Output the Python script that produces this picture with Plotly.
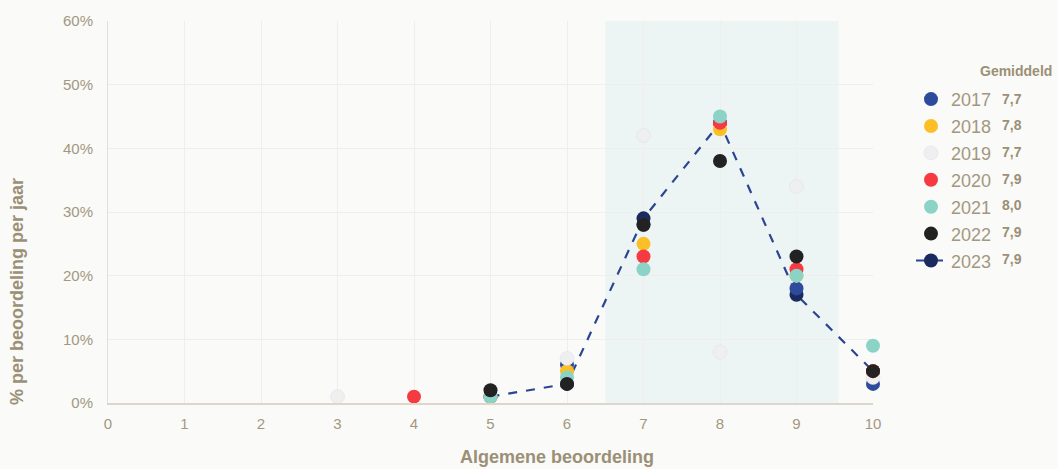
import plotly.graph_objects as go

years = ["2017", "2018", "2019", "2020", "2021", "2022", "2023"]
averages = ["7,7", "7,8", "7,7", "7,9", "8,0", "7,9", "7,9"]
colors = ["#2d4a9c", "#fdbf26", "#efefef", "#f63a42", "#8bd3c7", "#222222", "#1b2a5e"]

x_2017 = [5, 6, 7, 8, 9, 10]
y_2017 = [1, 6, 28, 44, 18, 3]
x_2018 = [5, 6, 7, 8, 9, 10]
y_2018 = [1, 5, 25, 43, 20, 5]
x_2019 = [3, 6, 7, 8, 9, 10]
y_2019 = [1, 7, 42, 8, 34, 4]
x_2020 = [4, 7, 8, 9, 10]
y_2020 = [1, 23, 44, 21, 5]
x_2021 = [5, 6, 7, 8, 9, 10]
y_2021 = [1, 4, 21, 45, 20, 9]
x_2022 = [5, 6, 7, 8, 9, 10]
y_2022 = [2, 3, 28, 38, 23, 5]
x_2023 = [5, 6, 7, 8, 9, 10]
y_2023 = [1, 3, 29, 44, 17, 5]

series_x = [x_2017, x_2018, x_2019, x_2020, x_2021, x_2022, x_2023]
series_y = [y_2017, y_2018, y_2019, y_2020, y_2021, y_2022, y_2023]

highlight_range = [6.5, 9.55]

TICK = "#a3987f"
TITLE = "#9b9076"
FONT = "Liberation Sans, Arial, sans-serif"
BG = "#fafaf9"

fig = go.Figure()

# 2023 first so other years draw on top of it; legend ordered via legendrank
order = [6, 0, 1, 2, 3, 4, 5]
for i in order:
    is_line = years[i] == "2023"
    fig.add_trace(go.Scatter(
        x=series_x[i], y=series_y[i], name=years[i],
        mode="lines+markers" if is_line else "markers",
        line=dict(color="#2b4592", width=2.2, dash="dash") if is_line else None,
        marker=dict(size=14, color=colors[i],
                    line=dict(width=0.5 if years[i] == "2019" else 0,
                              color="#dcdcec" if years[i] == "2019" else colors[i])),
        legendrank=i + 1, legendgroup=years[i], cliponaxis=False,
    ))

fig.add_shape(type="rect", xref="x", yref="y", x0=highlight_range[0], x1=highlight_range[1],
              y0=0, y1=60, fillcolor="#edf4f4", line=dict(width=0), layer="below")

PW, PH = 765, 389
def px(xp):
    return (xp - 108) / PW
def py(yp):
    return (403 - yp) / PH

annotations = [
    dict(text="<b>% per beoordeling per jaar</b>", xref="paper", yref="paper",
         x=px(17), y=py(290), textangle=-90, showarrow=False,
         xanchor="center", yanchor="middle",
         font=dict(size=18, color=TITLE, family=FONT)),
    dict(text="<b>Algemene beoordeling</b>", xref="paper", yref="paper",
         x=px(557), y=py(458), showarrow=False, xanchor="center", yanchor="middle",
         font=dict(size=18, color=TITLE, family=FONT)),
    dict(text="<b>Gemiddeld</b>", xref="paper", yref="paper",
         x=px(1016), y=py(65), showarrow=False, xanchor="center", yanchor="middle",
         font=dict(size=14, color=TITLE, family=FONT)),
]
row_y0 = 93
for k, avg in enumerate(averages):
    ypx = row_y0 + k * 27.2
    annotations.append(dict(text="<b>" + avg + "</b>", xref="paper", yref="paper",
                            x=px(1012), y=py(ypx), xanchor="center",
                            showarrow=False, yanchor="middle",
                            font=dict(size=14, color=TITLE, family=FONT)))

fig.update_layout(
    width=1058, height=469,
    margin=dict(l=108, r=185, t=14, b=66),
    paper_bgcolor=BG, plot_bgcolor=BG,
    font=dict(family=FONT, color=TICK),
    showlegend=True,
    legend=dict(x=px(911), y=py(75), xanchor="left", yanchor="top",
                font=dict(size=18, color=TICK, family=FONT),
                tracegroupgap=0.5, bgcolor="rgba(0,0,0,0)", itemwidth=30),
    annotations=annotations,
    xaxis=dict(range=[0, 10], dtick=1, tick0=0, showgrid=True, gridcolor="#efeeeb",
               zeroline=False, showline=True, linecolor="#dcd6cb", linewidth=1.5,
               tickfont=dict(size=15, color=TICK), ticks="", ticklabelstandoff=6),
    yaxis=dict(range=[0, 60], dtick=10, ticksuffix="%", showgrid=True, gridcolor="#efeeeb",
               zeroline=False, showline=True, linecolor="#e4e0d8", linewidth=1,
               tickfont=dict(size=15, color=TICK), ticks="", ticklabelstandoff=11),
)

fig.write_html("out.html", config={"displayModeBar": False},
               post_script="document.body.style.margin='0';document.body.style.background='%s';" % BG)
